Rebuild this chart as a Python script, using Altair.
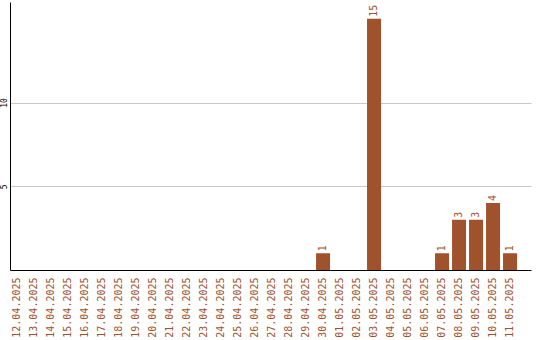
import altair as alt
import pandas as pd

dates = ["12.04.2025", "13.04.2025", "14.04.2025", "15.04.2025", "16.04.2025",
         "17.04.2025", "18.04.2025", "19.04.2025", "20.04.2025", "21.04.2025",
         "22.04.2025", "23.04.2025", "24.04.2025", "25.04.2025", "26.04.2025",
         "27.04.2025", "28.04.2025", "29.04.2025", "30.04.2025", "01.05.2025",
         "02.05.2025", "03.05.2025", "04.05.2025", "05.05.2025", "06.05.2025",
         "07.05.2025", "08.05.2025", "09.05.2025", "10.05.2025", "11.05.2025"]
values = [0, 0, 0, 0, 0, 0, 0, 0, 0, 0,
          0, 0, 0, 0, 0, 0, 0, 0, 1, 0,
          0, 15, 0, 0, 0, 1, 3, 3, 4, 1]
y_ticks = [5, 10]

df = pd.DataFrame({"date": dates, "value": values})

BROWN = "#a0522d"
FONT = "DejaVu Sans Mono"

x = alt.X("date:N", sort=dates, title=None,
          scale=alt.Scale(paddingInner=0.176, paddingOuter=0.41, align=0),
          axis=alt.Axis(labelAngle=-90, labelAlign="right", labelBaseline="middle",
                        labelPadding=7, ticks=False, labelColor=BROWN,
                        labelFont=FONT, labelFontSize=10, domainColor="black",
                        domainWidth=1, grid=False, labelOverlap=False))
y = alt.Y("value:Q", title=None,
          scale=alt.Scale(domain=[0, 16], nice=False),
          axis=alt.Axis(values=y_ticks, labelAngle=-90, labelAlign="center",
                        labelBaseline="bottom", labelPadding=2, ticks=False,
                        labelColor="black", labelFont=FONT, labelFontSize=8,
                        domainColor="black", domainWidth=1, grid=True,
                        gridColor="#c8c8c8", gridWidth=1))

bars = alt.Chart(df).mark_bar(color=BROWN).encode(x=x, y=y)
labels = alt.Chart(df).transform_filter("datum.value > 0").mark_text(
    angle=270, align="left", baseline="middle", dx=2, color=BROWN,
    font=FONT, fontSize=10
).encode(x=alt.X("date:N", sort=dates), y="value:Q", text="value:Q")

chart = (bars + labels).properties(
    width=521, height=268,
    autosize=alt.AutoSizeParams(type="none"),
    padding={"left": 10, "top": 2, "right": 9, "bottom": 70},
    background="white",
).configure_view(stroke=None)

chart.save("out.html", embed_options={"renderer": "svg", "actions": False})
